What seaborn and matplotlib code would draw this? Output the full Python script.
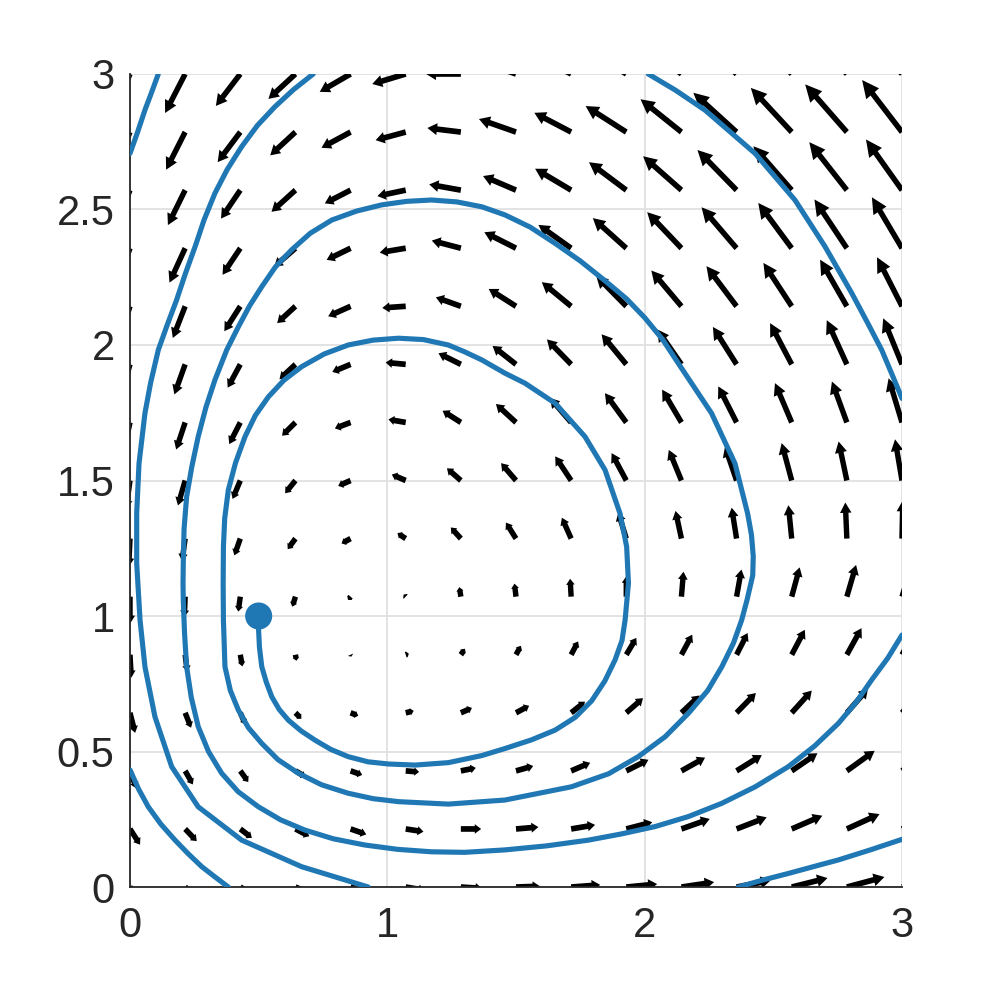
import numpy as np
import matplotlib
matplotlib.use("Agg")
import matplotlib.pyplot as plt
import seaborn as sns

# grid of arrow tails (15 x 15 over [0, 3])
x_grid = np.linspace(0, 3, 15)
y_grid = np.linspace(0, 3, 15)

# arrow components as drawn, one row per y value (bottom row first)
U0 = [0.045, 0.05, 0.055, 0.06, 0.068, 0.075, 0.083, 0.093, 0.113, 0.12, 0.127, 0.132, 0.139, 0.146, 0.15]
V0 = [-0.05, -0.04, -0.032, -0.025, -0.018, -0.012, -0.005, 0.003, 0.008, 0.011, 0.018, 0.024, 0.033, 0.037, 0.042]
U1 = [0.039, 0.045, 0.045, 0.054, 0.061, 0.069, 0.079, 0.087, 0.093, 0.101, 0.11, 0.117, 0.119, 0.127, 0.13]
V1 = [-0.058, -0.045, -0.033, -0.027, -0.02, -0.01, 0.0, 0.007, 0.015, 0.025, 0.037, 0.043, 0.049, 0.055, 0.06]
U2 = [0.025, 0.03, 0.031, 0.039, 0.045, 0.052, 0.058, 0.067, 0.074, 0.086, 0.092, 0.098, 0.1, 0.108, 0.11]
V2 = [-0.065, -0.05, -0.041, -0.022, -0.015, -0.004, 0.011, 0.018, 0.03, 0.041, 0.049, 0.058, 0.065, 0.074, 0.08]
U3 = [0.02, 0.023, 0.02, 0.023, 0.03, 0.031, 0.043, 0.051, 0.054, 0.065, 0.071, 0.075, 0.078, 0.082, 0.085]
V3 = [-0.074, -0.055, -0.043, -0.022, -0.011, 0.007, 0.018, 0.026, 0.041, 0.054, 0.064, 0.073, 0.082, 0.089, 0.095]
U4 = [0.005, 0.008, 0.008, 0.004, 0.003, 0.012, 0.016, 0.019, 0.027, 0.039, 0.042, 0.043, 0.051, 0.057, 0.06]
V4 = [-0.085, -0.062, -0.043, -0.022, -0.007, 0.004, 0.022, 0.033, 0.049, 0.062, 0.074, 0.08, 0.092, 0.098, 0.105]
U5 = [0.0, -0.003, -0.008, -0.012, -0.01, -0.008, -0.006, -0.006, -0.004, 0.0, 0.008, 0.019, 0.031, 0.036, 0.04]
V5 = [-0.1, -0.075, -0.055, -0.037, -0.012, 0.008, 0.035, 0.048, 0.066, 0.075, 0.092, 0.1, 0.108, 0.117, 0.12]
U6 = [-0.005, -0.012, -0.023, -0.03, -0.035, -0.032, -0.039, -0.039, -0.036, -0.031, -0.023, -0.019, -0.013, -0.006, 0.003]
V6 = [-0.104, -0.083, -0.062, -0.039, -0.018, 0.02, 0.041, 0.059, 0.077, 0.096, 0.102, 0.114, 0.123, 0.133, 0.14]
U7 = [-0.015, -0.028, -0.03, -0.04, -0.048, -0.054, -0.054, -0.058, -0.062, -0.057, -0.049, -0.045, -0.039, -0.032, -0.027]
V7 = [-0.105, -0.092, -0.068, -0.047, -0.02, 0.022, 0.045, 0.064, 0.089, 0.101, 0.113, 0.125, 0.138, 0.144, 0.152]
U8 = [-0.025, -0.035, -0.043, -0.052, -0.061, -0.067, -0.071, -0.078, -0.082, -0.083, -0.075, -0.071, -0.065, -0.058, -0.052]
V8 = [-0.11, -0.1, -0.08, -0.049, -0.022, 0.011, 0.043, 0.068, 0.09, 0.108, 0.121, 0.133, 0.145, 0.151, 0.163]
U9 = [-0.035, -0.042, -0.049, -0.062, -0.071, -0.078, -0.087, -0.091, -0.094, -0.096, -0.094, -0.092, -0.084, -0.078, -0.073]
V9 = [-0.118, -0.111, -0.086, -0.055, -0.028, 0.007, 0.041, 0.068, 0.092, 0.111, 0.129, 0.138, 0.152, 0.163, 0.17]
U10 = [-0.042, -0.048, -0.062, -0.071, -0.087, -0.091, -0.097, -0.106, -0.114, -0.117, -0.117, -0.117, -0.11, -0.104, -0.097]
V10 = [-0.125, -0.117, -0.092, -0.062, -0.037, -0.006, 0.033, 0.064, 0.089, 0.113, 0.132, 0.148, 0.16, 0.172, 0.181]
U11 = [-0.05, -0.061, -0.069, -0.082, -0.093, -0.101, -0.113, -0.123, -0.127, -0.13, -0.133, -0.136, -0.13, -0.126, -0.117]
V11 = [-0.135, -0.127, -0.098, -0.068, -0.043, -0.016, 0.028, 0.059, 0.086, 0.111, 0.133, 0.151, 0.167, 0.18, 0.188]
U12 = [-0.058, -0.067, -0.075, -0.093, -0.1, -0.11, -0.123, -0.128, -0.14, -0.145, -0.149, -0.152, -0.149, -0.146, -0.14]
V12 = [-0.14, -0.129, -0.105, -0.08, -0.049, -0.022, 0.021, 0.052, 0.079, 0.103, 0.125, 0.148, 0.162, 0.177, 0.187]
U13 = [-0.065, -0.074, -0.088, -0.098, -0.113, -0.117, -0.13, -0.144, -0.143, -0.158, -0.159, -0.168, -0.159, -0.162, -0.155]
V13 = [-0.15, -0.139, -0.111, -0.086, -0.058, -0.03, 0.015, 0.048, 0.071, 0.096, 0.121, 0.145, 0.163, 0.176, 0.192]
U14 = [-0.07, -0.078, -0.095, -0.105, -0.12, -0.13, -0.135, -0.15, -0.155, -0.165, -0.17, -0.175, -0.17, -0.17, -0.165]
V14 = [-0.16, -0.144, -0.118, -0.092, -0.066, -0.037, 0.0, 0.05, 0.075, 0.1, 0.125, 0.15, 0.17, 0.185, 0.2]

# trajectory (pieces where it leaves and re-enters the box)
spiral_x = [0.5, 0.499, 0.503, 0.512, 0.53, 0.551, 0.58, 0.615, 0.665, 0.719, 0.78, 0.848, 0.925,
            1.004, 1.108, 1.237, 1.367, 1.457, 1.56, 1.652, 1.73, 1.794, 1.845, 1.885, 1.912, 1.924,
            1.937, 1.93, 1.904, 1.846, 1.768, 1.652, 1.535, 1.457, 1.367, 1.3, 1.237, 1.14, 1.043,
            0.945, 0.848, 0.755, 0.667, 0.598, 0.538, 0.487, 0.447, 0.41, 0.382, 0.368, 0.363,
            0.362, 0.363, 0.369, 0.39, 0.421, 0.46, 0.512, 0.575, 0.654, 0.745, 0.848, 0.945,
            1.043, 1.237, 1.457, 1.716, 1.86, 1.975, 2.08, 2.17, 2.245, 2.3, 2.345, 2.377, 2.398,
            2.42, 2.422, 2.415, 2.4, 2.351, 2.26, 2.131, 2.07, 2.001, 1.93, 1.846, 1.75, 1.652,
            1.555, 1.457, 1.367, 1.27, 1.172, 1.075, 0.978, 0.88, 0.784, 0.7, 0.628, 0.565, 0.512,
            0.465, 0.421, 0.376, 0.33, 0.295, 0.265, 0.24, 0.22, 0.21, 0.207, 0.206, 0.207, 0.212,
            0.22, 0.238, 0.265, 0.305, 0.356, 0.42, 0.499, 0.585, 0.68, 0.79, 0.913, 1.04, 1.172,
            1.3, 1.457, 1.62, 1.781, 1.91, 2.04, 2.17, 2.3, 2.43, 2.558, 2.66, 2.753, 2.822,
            2.882, 2.945, 3.0]
spiral_y = [1.0, 0.962, 0.885, 0.813, 0.755, 0.702, 0.655, 0.616, 0.576, 0.542, 0.508, 0.481,
            0.462, 0.454, 0.45, 0.459, 0.485, 0.511, 0.543, 0.579, 0.626, 0.687, 0.76, 0.838,
            0.91, 0.985, 1.121, 1.256, 1.379, 1.539, 1.662, 1.785, 1.859, 1.896, 1.945, 1.975,
            2.0, 2.02, 2.025, 2.018, 2.0, 1.967, 1.92, 1.87, 1.809, 1.74, 1.662, 1.565, 1.465,
            1.36, 1.256, 1.12, 0.985, 0.813, 0.725, 0.653, 0.588, 0.53, 0.47, 0.42, 0.377, 0.346,
            0.326, 0.315, 0.306, 0.321, 0.37, 0.418, 0.481, 0.555, 0.641, 0.725, 0.813, 0.9,
            0.985, 1.06, 1.15, 1.22, 1.3, 1.379, 1.563, 1.748, 1.932, 2.02, 2.1, 2.17, 2.237,
            2.31, 2.375, 2.435, 2.48, 2.51, 2.528, 2.535, 2.53, 2.517, 2.494, 2.461, 2.412, 2.351,
            2.288, 2.215, 2.145, 2.067, 1.982, 1.871, 1.77, 1.662, 1.55, 1.44, 1.32, 1.194, 1.12,
            1.059, 0.935, 0.813, 0.7, 0.592, 0.5, 0.42, 0.352, 0.296, 0.248, 0.21, 0.178, 0.155,
            0.139, 0.13, 0.128, 0.137, 0.152, 0.173, 0.196, 0.223, 0.26, 0.309, 0.37, 0.444,
            0.52, 0.604, 0.682, 0.764, 0.845, 0.93]
arc1_x = [3.0, 2.961, 2.921, 2.87, 2.805, 2.701, 2.584, 2.429, 2.234, 2.12, 2.014]
arc1_y = [1.803, 1.892, 1.982, 2.075, 2.191, 2.363, 2.535, 2.707, 2.867, 2.94, 3.0]
arc2_x = [0.712, 0.635, 0.563, 0.495, 0.434, 0.378, 0.33, 0.288, 0.253, 0.215, 0.181, 0.145,
          0.11, 0.08, 0.058, 0.035, 0.026, 0.026, 0.039, 0.058, 0.097, 0.162, 0.265, 0.434,
          0.667, 0.926]
arc2_y = [3.0, 2.942, 2.879, 2.81, 2.732, 2.648, 2.56, 2.462, 2.363, 2.263, 2.166, 2.075,
          1.982, 1.86, 1.748, 1.563, 1.379, 1.194, 0.985, 0.813, 0.628, 0.444, 0.296, 0.173,
          0.075, 0.0]
arc3_x = [2.364, 2.46, 2.558, 2.655, 2.753, 2.88, 3.0]
arc3_y = [0.0, 0.026, 0.05, 0.075, 0.1, 0.138, 0.176]
arc4_x = [0.11, 0.085, 0.058, 0.03, 0.0]
arc4_y = [3.0, 2.935, 2.867, 2.787, 2.707]
arc5_x = [0.0, 0.033, 0.071, 0.12, 0.175, 0.227, 0.279, 0.332, 0.382]
arc5_y = [0.432, 0.362, 0.296, 0.232, 0.173, 0.122, 0.075, 0.036, 0.0]

start_x = [0.5]
start_y = [1.0]

x_ticks = [0, 1, 2, 3]
x_tick_labels = ["0", "1", "2", "3"]
y_ticks = [0, 0.5, 1, 1.5, 2, 2.5, 3]
y_tick_labels = ["0", "0.5", "1", "1.5", "2", "2.5", "3"]

blue = "#1f77b4"
dark = "#262626"

sns.set_theme(style="whitegrid")
plt.rcParams["font.family"] = ["Liberation Sans", "DejaVu Sans"]

fig = plt.figure(figsize=(9.97, 9.97), dpi=100)
ax = fig.add_axes([0.1304, 0.1103, 0.7743, 0.8155])

X, Y = np.meshgrid(x_grid, y_grid)
U = np.array([U0, U1, U2, U3, U4, U5, U6, U7, U8, U9, U10, U11, U12, U13, U14])
V = np.array([V0, V1, V2, V3, V4, V5, V6, V7, V8, V9, V10, V11, V12, V13, V14])

# matlab-like quiver: constant shaft width, head grows with arrow length
shaft = 0.021
for x0, y0, u, v in zip(X.ravel(), Y.ravel(), U.ravel(), V.ravel()):
    L = np.hypot(u, v)
    if L == 0:
        continue
    hl = min(0.24 * L + 0.006, L)
    hw = 0.17 * L + 0.022
    ax.arrow(x0, y0, u, v, width=shaft, head_width=hw, head_length=hl,
             length_includes_head=True, color="black", lw=0, zorder=2)

for sx, sy in [(spiral_x, spiral_y), (arc1_x, arc1_y), (arc2_x, arc2_y),
               (arc3_x, arc3_y), (arc4_x, arc4_y), (arc5_x, arc5_y)]:
    sns.lineplot(x=sx, y=sy, sort=False, estimator=None, color=blue,
                 linewidth=3.7, ax=ax, zorder=3, solid_joinstyle="round")

sns.scatterplot(x=start_x, y=start_y, color=blue, s=380, edgecolor="none",
                ax=ax, zorder=4, clip_on=False)

ax.set_xlim(0, 3)
ax.set_ylim(0, 3)
ax.set_xticks(x_ticks)
ax.set_xticklabels(x_tick_labels)
ax.set_yticks(y_ticks)
ax.set_yticklabels(y_tick_labels)

ax.grid(True, color="#e1e1e1", linewidth=1.3)
ax.set_axisbelow(True)
for side in ["top", "right"]:
    ax.spines[side].set_visible(False)
for side in ["left", "bottom"]:
    ax.spines[side].set_visible(True)
    ax.spines[side].set_color(dark)
    ax.spines[side].set_linewidth(1.3)

ax.tick_params(axis="both", direction="in", length=6, width=1.1, colors=dark,
               labelsize=30)
ax.tick_params(axis="x", pad=14)
ax.tick_params(axis="y", pad=11)
ax.set_facecolor("white")
fig.patch.set_facecolor("white")

plt.savefig("out.png", dpi=100)
